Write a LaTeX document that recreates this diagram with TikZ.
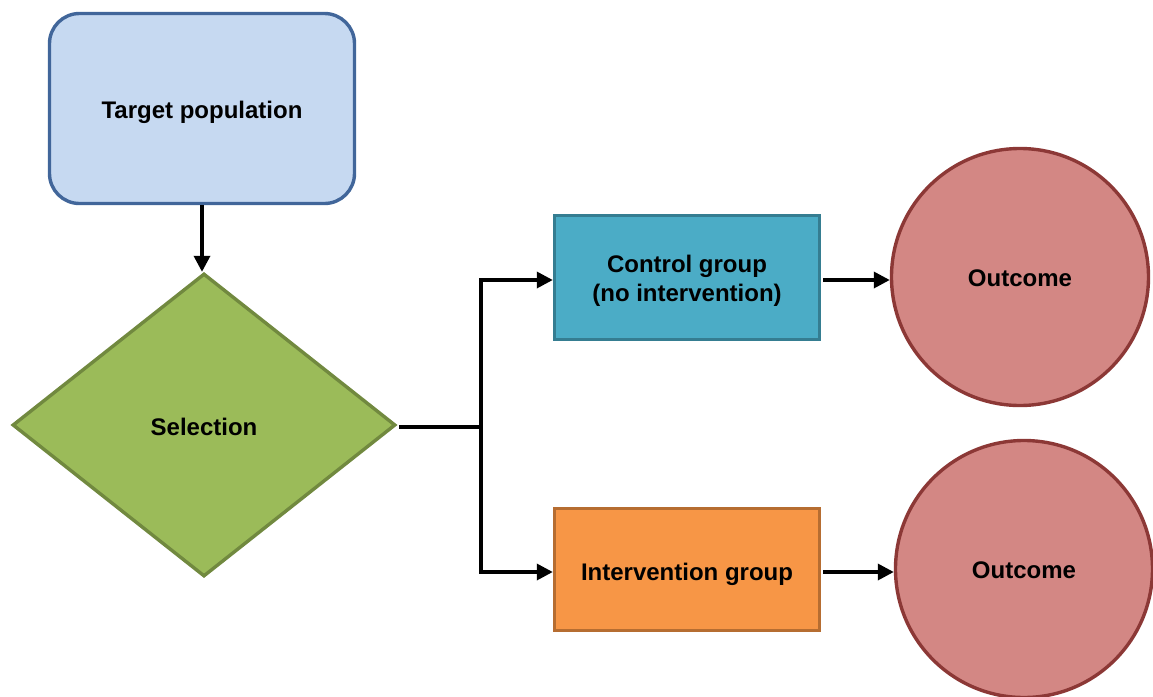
\documentclass[tikz,border=0pt]{standalone}
\usepackage{fontspec}
\setmainfont{Liberation Sans}
\usetikzlibrary{shapes.geometric,arrows.meta}
\definecolor{tpfill}{HTML}{C6D9F1}
\definecolor{tpdraw}{HTML}{41669A}
\definecolor{selfill}{HTML}{9BBB59}
\definecolor{seldraw}{HTML}{71893F}
\definecolor{ctfill}{HTML}{4BACC6}
\definecolor{ctdraw}{HTML}{357D91}
\definecolor{infill}{HTML}{F79646}
\definecolor{indraw}{HTML}{B66D31}
\definecolor{oufill}{HTML}{D38784}
\definecolor{oudraw}{HTML}{8C3836}
\begin{document}
\begin{tikzpicture}[x=0.5pt,y=-0.5pt,
  every node/.style={inner sep=0pt, line width=1.7pt},
  every label/.style={font=\fontsize{12}{14.4}\selectfont\bfseries, align=center, inner sep=0pt},
  conn/.style={line width=1.7pt, black},
  arr/.style={conn, -{Triangle[length=8pt,width=8pt]}},
  boxstyle/.style={rectangle, minimum width=132.5pt},
  outc/.style={circle, minimum size=128.5pt, draw=oudraw, fill=oufill}]
\clip (0,0) rectangle (1153,697);
\node[rectangle, rounded corners=15pt, minimum width=152.5pt, minimum height=95pt, draw=tpdraw, fill=tpfill, label={[yshift=-2pt]center:Target population}] (tp) at (202,108.5) {};
\node[diamond, aspect=1.264, minimum width=191.5pt, minimum height=151.5pt, draw=seldraw, fill=selfill, label={[yshift=-1pt]center:Selection}] (sel) at (204,425) {};
\node[boxstyle, minimum height=62pt, draw=ctdraw, fill=ctfill, label={[yshift=-1.5pt]center:Control group\\(no intervention)}] (ctrl) at (687,277.5) {};
\node[boxstyle, minimum height=61pt, draw=indraw, fill=infill, label={[yshift=-2.5pt]center:Intervention group}] (int) at (687,569.5) {};
\node[outc, label={[yshift=-0.75pt]center:Outcome}] (out1) at (1020,277) {};
\node[outc, label={[yshift=-0.75pt]center:Outcome}] (out2) at (1024,569) {};
\coordinate (split) at (481,427);
\draw[arr] (tp.south) -- (tp.south |- sel.north);
\draw[conn] ([xshift=1pt]sel.east |- split) -- (split);
\draw[arr] (split) |- ([yshift=-1.25pt]ctrl.west);
\draw[arr] (split) |- ([yshift=-1.25pt]int.west);
\draw[arr] ([xshift=1pt,yshift=-1.25pt]ctrl.east) -- ([yshift=-1.5pt]out1.west);
\draw[arr] ([xshift=1pt,yshift=-1.25pt]int.east) -- ([yshift=-1.5pt]out2.west);
\end{tikzpicture}
\end{document}
